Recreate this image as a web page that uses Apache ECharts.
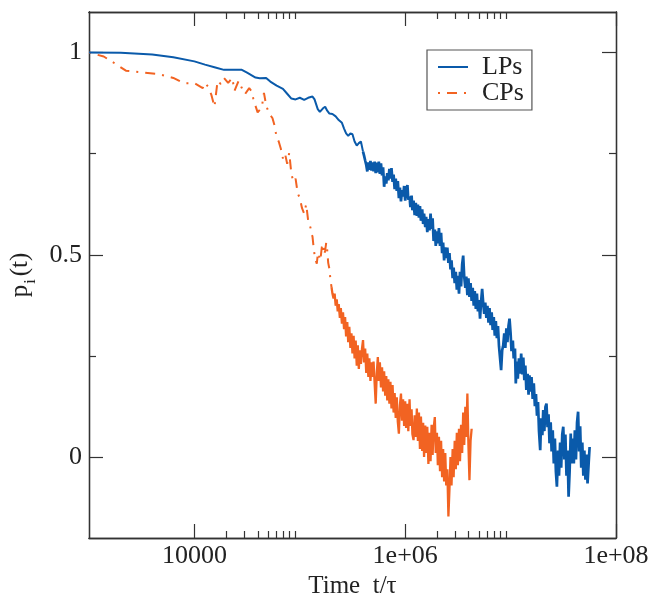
<!DOCTYPE html>
<html><head><meta charset="utf-8">
<script src="https://cdn.jsdelivr.net/npm/echarts@6/dist/echarts.min.js"></script>
<style>html,body{margin:0;padding:0;background:#fff}#c{width:652px;height:593px}</style>
</head><body><div id="c"></div>
<script>
const seriesNames = ['LPs', 'CPs'];
// LPs: time t/tau and p_i(t)
const lpTime = [1.00e3,2.00e3,3.98e3,6.31e3,1.00e4,1.26e4,1.58e4,1.91e4,2.24e4,2.82e4,3.16e4,3.80e4,4.17e4,4.79e4,5.25e4,6.03e4,6.92e4,7.59e4,8.32e4,9.12e4,
1.00e5,1.10e5,1.20e5,1.32e5,1.38e5,1.48e5,1.55e5,1.66e5,1.74e5,1.82e5,1.91e5,2.04e5,2.19e5,2.34e5,2.51e5,2.63e5,2.75e5,2.88e5,3.02e5,3.16e5,
3.31e5,3.47e5,3.63e5,3.80e5,
3.98e5,4.07e5,4.17e5,4.27e5,4.37e5,4.47e5,4.57e5,4.68e5,4.79e5,4.90e5,
5.01e5,5.13e5,5.25e5,5.37e5,5.50e5,5.62e5,5.75e5,5.89e5,6.03e5,6.17e5,
6.31e5,6.46e5,6.61e5,6.76e5,6.92e5,7.08e5,7.24e5,7.41e5,7.59e5,7.76e5,
7.94e5,8.13e5,8.32e5,8.51e5,8.71e5,8.91e5,9.12e5,9.33e5,9.55e5,9.77e5,
1.00e6,1.02e6,1.05e6,1.07e6,1.10e6,1.12e6,1.15e6,1.17e6,1.20e6,1.23e6,
1.26e6,1.29e6,1.32e6,1.35e6,1.38e6,1.41e6,1.45e6,1.48e6,1.51e6,1.55e6,
1.58e6,1.62e6,1.66e6,1.70e6,1.74e6,1.78e6,1.82e6,1.86e6,1.91e6,1.95e6,
2.00e6,2.04e6,2.09e6,2.14e6,2.19e6,2.24e6,2.29e6,2.34e6,2.40e6,2.45e6,
2.51e6,2.57e6,2.63e6,2.69e6,2.75e6,2.82e6,2.88e6,2.95e6,3.02e6,3.09e6,
3.16e6,3.24e6,3.31e6,3.39e6,3.47e6,3.55e6,3.63e6,3.72e6,3.80e6,3.89e6,
3.98e6,4.07e6,4.17e6,4.27e6,4.37e6,4.47e6,4.57e6,4.68e6,4.79e6,4.90e6,
5.01e6,5.13e6,5.25e6,5.37e6,5.50e6,5.62e6,5.75e6,5.89e6,6.03e6,6.17e6,
6.31e6,6.46e6,6.61e6,6.76e6,6.92e6,7.08e6,7.24e6,7.41e6,7.59e6,7.76e6,
7.94e6,8.13e6,8.32e6,8.51e6,8.71e6,8.91e6,9.12e6,9.33e6,9.55e6,9.77e6,
1.00e7,1.02e7,1.05e7,1.07e7,1.10e7,1.12e7,1.15e7,1.17e7,1.20e7,1.23e7,
1.26e7,1.29e7,1.32e7,1.35e7,1.38e7,1.41e7,1.45e7,1.48e7,1.51e7,1.55e7,
1.58e7,1.62e7,1.66e7,1.70e7,1.74e7,1.78e7,1.82e7,1.86e7,1.91e7,1.95e7,
2.00e7,2.04e7,2.09e7,2.14e7,2.19e7,2.24e7,2.29e7,2.34e7,2.40e7,2.45e7,
2.51e7,2.57e7,2.63e7,2.69e7,2.75e7,2.82e7,2.88e7,2.95e7,3.02e7,3.09e7,
3.16e7,3.24e7,3.31e7,3.39e7,3.47e7,3.55e7,3.63e7,3.72e7,3.80e7,3.89e7,
3.98e7,4.07e7,4.17e7,4.27e7,4.37e7,4.47e7,4.57e7,4.68e7,4.79e7,4.90e7,
5.01e7,5.13e7,5.25e7,5.37e7,5.50e7,5.62e7];
const lpP = [1.000,0.999,0.995,0.988,0.978,0.970,0.963,0.957,0.957,0.957,0.950,0.938,0.936,0.937,0.928,0.918,0.910,0.898,0.886,0.884,
0.888,0.883,0.888,0.891,0.884,0.860,0.853,0.862,0.866,0.856,0.849,0.848,0.842,0.833,0.826,0.812,0.800,0.794,0.800,0.798,
0.780,0.770,0.776,0.780,
0.755,0.745,0.733,0.722,0.706,0.728,0.710,0.732,0.708,0.728,
0.706,0.730,0.702,0.728,0.704,0.730,0.700,0.726,0.696,0.716,
0.668,0.694,0.676,0.702,0.684,0.712,0.688,0.714,0.680,0.698,
0.662,0.688,0.658,0.682,0.640,0.666,0.632,0.660,0.644,0.670,
0.634,0.664,0.672,0.636,0.644,0.618,0.646,0.610,0.634,0.598,
0.628,0.596,0.624,0.592,0.620,0.584,0.612,0.576,0.602,0.568,
0.594,0.556,0.588,0.560,0.602,0.564,0.590,0.534,0.562,0.522,
0.558,0.528,0.566,0.522,0.554,0.504,0.530,0.486,0.518,0.492,
0.518,0.480,0.504,0.464,0.486,0.442,0.468,0.430,0.458,0.414,
0.448,0.404,0.458,0.422,0.476,0.498,0.446,0.418,0.446,0.400,
0.442,0.396,0.430,0.386,0.418,0.374,0.410,0.366,0.404,0.360,
0.388,0.342,0.384,0.416,0.380,0.354,0.382,0.344,0.374,0.332,
0.368,0.326,0.358,0.314,0.346,0.300,0.336,0.294,0.324,0.274,
0.270,0.215,0.264,0.276,0.306,0.270,0.318,0.284,0.324,0.342,
0.306,0.262,0.288,0.244,0.268,0.182,0.236,0.194,0.244,0.206,
0.256,0.204,0.246,0.190,0.226,0.166,0.206,0.154,0.202,0.162,
0.198,0.144,0.182,0.126,0.156,0.102,0.136,0.064,0.017,0.096,
0.054,0.116,0.064,0.124,0.132,0.074,0.106,0.034,0.086,0.014,
0.066,-0.016,0.046,-0.036,-0.073,0.016,-0.046,0.036,-0.026,0.056,
0.075,-0.006,0.056,-0.046,0.016,-0.098,-0.036,0.058,-0.016,0.046,
-0.016,0.066,-0.006,0.086,0.112,0.014,0.076,-0.026,0.036,-0.046,
0.016,-0.056,0.006,-0.065,-0.016,0.025];
// CPs: time t/tau and p_i(t)
const cpTime = [1.00e3,1.38e3,1.78e3,2.24e3,3.16e3,4.47e3,6.31e3,7.94e3,1.00e4,1.20e4,1.26e4,1.35e4,1.45e4,1.55e4,1.66e4,1.78e4,1.91e4,2.09e4,2.29e4,2.40e4,
2.63e4,2.82e4,3.02e4,3.31e4,3.47e4,3.63e4,3.80e4,3.98e4,4.17e4,4.37e4,4.57e4,4.79e4,5.01e4,5.25e4,5.50e4,5.75e4,6.03e4,6.31e4,6.61e4,6.92e4,
7.24e4,7.59e4,7.94e4,8.32e4,8.71e4,9.12e4,9.55e4,1.00e5,1.05e5,1.10e5,1.15e5,1.20e5,
1.26e5,1.29e5,1.32e5,1.35e5,1.38e5,1.41e5,1.45e5,1.48e5,1.51e5,1.55e5,
1.58e5,1.62e5,1.66e5,1.70e5,1.74e5,1.78e5,1.82e5,1.86e5,1.91e5,1.95e5,
2.00e5,2.04e5,2.09e5,2.14e5,2.19e5,2.24e5,2.29e5,2.34e5,2.40e5,2.45e5,
2.51e5,2.57e5,2.63e5,2.69e5,2.75e5,2.82e5,2.88e5,2.95e5,3.02e5,3.09e5,
3.16e5,3.24e5,3.31e5,3.39e5,3.47e5,3.55e5,3.63e5,3.72e5,3.80e5,3.89e5,
3.98e5,4.07e5,4.17e5,4.27e5,4.37e5,4.47e5,4.57e5,4.68e5,4.79e5,4.90e5,
5.01e5,5.13e5,5.25e5,5.37e5,5.50e5,5.62e5,5.75e5,5.89e5,6.03e5,6.17e5,
6.31e5,6.46e5,6.61e5,6.76e5,6.92e5,7.08e5,7.24e5,7.41e5,7.59e5,7.76e5,
7.94e5,8.13e5,8.32e5,8.51e5,8.71e5,8.91e5,9.12e5,9.33e5,9.55e5,9.77e5,
1.00e6,1.02e6,1.05e6,1.07e6,1.10e6,1.12e6,1.15e6,1.17e6,1.20e6,1.23e6,
1.26e6,1.29e6,1.32e6,1.35e6,1.38e6,1.41e6,1.45e6,1.48e6,1.51e6,1.55e6,
1.58e6,1.62e6,1.66e6,1.70e6,1.74e6,1.78e6,1.82e6,1.86e6,1.91e6,1.95e6,
2.00e6,2.04e6,2.09e6,2.14e6,2.19e6,2.24e6,2.29e6,2.34e6,2.40e6,2.45e6,
2.51e6,2.57e6,2.63e6,2.69e6,2.75e6,2.82e6,2.88e6,2.95e6,3.02e6,3.09e6,
3.16e6,3.24e6,3.31e6,3.39e6,3.47e6,3.55e6,3.63e6,3.72e6,3.80e6,3.89e6,
3.98e6,4.07e6,4.17e6,4.27e6];
const cpP = [1.000,0.990,0.972,0.955,0.951,0.947,0.937,0.924,0.924,0.912,0.925,0.915,0.895,0.866,0.930,0.922,0.937,0.925,0.937,0.905,
0.930,0.912,0.897,0.912,0.905,0.885,0.868,0.852,0.858,0.866,0.900,0.870,0.855,0.845,0.838,0.820,0.790,0.780,0.762,0.738,
0.750,0.725,0.752,0.700,0.680,0.688,0.652,0.640,0.615,0.602,0.625,0.585,
0.568,0.552,0.545,0.520,0.500,0.488,0.478,0.500,0.505,0.486,
0.495,0.520,0.527,0.500,0.510,0.530,0.512,0.480,0.465,0.440,
0.420,0.404,0.392,0.404,0.374,0.390,0.360,0.378,0.344,0.368,
0.330,0.358,0.316,0.346,0.298,0.334,0.284,0.322,0.270,0.306,
0.256,0.300,0.244,0.288,0.226,0.276,0.218,0.264,0.230,0.268,
0.289,0.234,0.268,0.208,0.256,0.198,0.244,0.188,0.234,0.198,
0.236,0.182,0.132,0.206,0.247,0.188,0.234,0.172,0.222,0.162,
0.212,0.152,0.200,0.140,0.192,0.132,0.186,0.120,0.178,0.110,
0.158,0.097,0.148,0.087,0.058,0.128,0.157,0.090,0.143,0.077,
0.138,0.072,0.132,0.064,0.143,0.077,0.118,0.057,0.042,0.103,
0.050,0.120,0.040,0.110,0.020,0.100,0.015,0.085,0.000,0.078,
0.010,0.075,-0.017,0.060,-0.010,0.080,0.005,0.070,0.099,0.010,
0.060,-0.020,0.050,-0.035,0.040,-0.050,0.020,-0.060,0.010,-0.070,
-0.030,-0.147,-0.080,0.000,-0.070,0.020,-0.050,0.040,-0.030,0.060,
-0.020,0.070,-0.010,0.080,0.010,0.110,0.030,0.124,0.050,0.157,
0.030,-0.057,0.040,0.070];
// where each trace turns from sparse sampling to dense, noisy sampling
const cpSparseEnd = 2.00e5;
const lpSparseEnd = 3.98e5;
const xMajorTicks = [1e4, 1e6, 1e8];
const xTickLabels = ['10000', '1e+06', '1e+08'];
const xMinorTicks = [2e4,3e4,4e4,5e4,6e4,7e4,8e4,9e4,2e6,3e6,4e6,5e6,6e6,7e6,8e6,9e6];
const yMajorTicks = [0, 0.5, 1];
const yTickLabels = ['0', '0.5', '1'];
const yMinorTicks = [0.25, 0.75];

const FONT = '"Liberation Serif", "Times New Roman", serif';
const AX = '#333';
const blue = '#0a5aaa', orange = '#f26322';
const FS = 26;

function pair(ts, ps) { return ts.map((t, i) => [t, ps[i]]); }
const cpAll = pair(cpTime, cpP);
const cpCut = cpTime.indexOf(cpSparseEnd);
const lpAll = pair(lpTime, lpP);
const lpCut = lpTime.indexOf(lpSparseEnd);

function xAx(pos, ticks, len, labels) {
  return {
    type: 'log', logBase: 10, min: 1e3, max: 1e8, position: pos, gridIndex: 0,
    axisLine: { show: true, onZero: false, lineStyle: { color: AX, width: 1.3 } },
    axisTick: { show: true, inside: true, length: len, customValues: ticks, lineStyle: { color: AX, width: 1.2 } },
    axisLabel: labels ? {
      show: true, customValues: xMajorTicks, margin: 5,
      fontFamily: FONT, fontSize: FS, color: '#222',
      formatter: v => { let k = 0, b = Infinity; xMajorTicks.forEach((m, i) => { const d = Math.abs(Math.log10(v) - Math.log10(m)); if (d < b) { b = d; k = i; } }); return xTickLabels[k]; }
    } : { show: false },
    splitLine: { show: false }, minorTick: { show: false }
  };
}
function yAx(pos, ticks, len, labels) {
  return {
    type: 'value', min: -0.2, max: 1.1, position: pos, gridIndex: 0,
    axisLine: { show: true, onZero: false, lineStyle: { color: AX, width: 1.3 } },
    axisTick: { show: true, inside: true, length: len, customValues: ticks, lineStyle: { color: AX, width: 1.2 } },
    axisLabel: labels ? {
      show: true, customValues: yMajorTicks, margin: 7,
      fontFamily: FONT, fontSize: FS, color: '#222',
      formatter: v => { let k = 0, b = Infinity; yMajorTicks.forEach((m, i) => { const d = Math.abs(v - m); if (d < b) { b = d; k = i; } }); return yTickLabels[k]; }
    } : { show: false },
    splitLine: { show: false }
  };
}

const xAxes = [xAx('bottom', xMajorTicks, 14, true), xAx('top', xMajorTicks, 14, false), xAx('bottom', xMinorTicks, 7, false), xAx('top', xMinorTicks, 7, false)];
xAxes[0].name = 'Time  t/\u03c4';
xAxes[0].nameLocation = 'middle';
xAxes[0].nameGap = 28;
xAxes[0].nameTextStyle = { fontFamily: FONT, fontSize: 25, color: '#222' };

const yAxes = [yAx('left', yMajorTicks, 14, true), yAx('right', yMajorTicks, 14, false), yAx('left', yMinorTicks, 7, false), yAx('right', yMinorTicks, 7, false)];
yAxes[0].name = '{p|p}{s|i}{p|(t)}';
yAxes[0].nameLocation = 'middle';
yAxes[0].nameGap = 48;
yAxes[0].nameRotate = 90;
yAxes[0].nameTextStyle = {
  fontFamily: FONT, fontSize: 25, color: '#222',
  rich: {
    p: { fontFamily: FONT, fontSize: 25, color: '#222', lineHeight: 36, verticalAlign: 'middle' },
    s: { fontFamily: FONT, fontSize: 16, color: '#222', lineHeight: 16, verticalAlign: 'bottom', padding: [0, 3, 0, 1] }
  }
};

const chart = echarts.init(document.getElementById('c'), null, { renderer: 'canvas' });
chart.setOption({
  animation: false,
  backgroundColor: '#fff',
  grid: { left: 89, right: 36, top: 12, bottom: 55, containLabel: false, outerBoundsMode: 'none' },
  legend: {
    orient: 'vertical', left: 427, top: 50,
    data: seriesNames,
    backgroundColor: '#fff', borderColor: '#555', borderWidth: 1.2, borderRadius: 0,
    padding: [4, 8, 4, 10], itemGap: 0, itemWidth: 30, itemHeight: 14,
    itemStyle: { color: 'rgba(0,0,0,0)', borderWidth: 0, opacity: 0 },
    textStyle: { fontFamily: FONT, fontSize: FS, color: '#222', lineHeight: 25, padding: [0, 0, 0, 9] }
  },
  xAxis: xAxes,
  yAxis: yAxes,
  series: [
    { name: seriesNames[1], type: 'line', xAxisIndex: 0, yAxisIndex: 0, symbol: 'none', data: cpAll.slice(0, cpCut + 1),
      lineStyle: { color: orange, width: 2, type: [2, 7, 10, 7] }, itemStyle: { color: orange } },
    { name: seriesNames[1], type: 'line', xAxisIndex: 0, yAxisIndex: 0, symbol: 'none', data: cpAll.slice(cpCut),
      lineStyle: { color: orange, width: 2.3, type: 'solid' }, itemStyle: { color: orange } },
    { name: seriesNames[0], type: 'line', xAxisIndex: 0, yAxisIndex: 0, symbol: 'none', data: lpAll.slice(0, lpCut + 1),
      lineStyle: { color: blue, width: 2, type: 'solid' }, itemStyle: { color: blue } },
    { name: seriesNames[0], type: 'line', xAxisIndex: 0, yAxisIndex: 0, symbol: 'none', data: lpAll.slice(lpCut),
      lineStyle: { color: blue, width: 2.7, type: 'solid' }, itemStyle: { color: blue } }
  ]
});
</script></body></html>
